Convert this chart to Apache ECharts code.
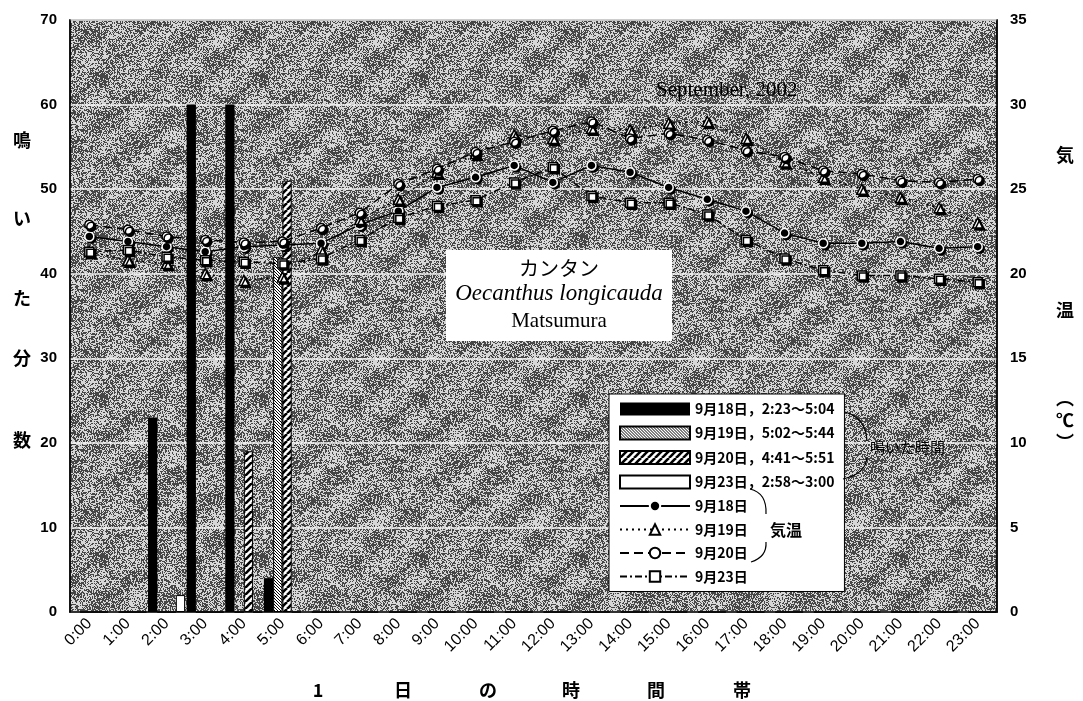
<!DOCTYPE html>
<html>
<head>
<meta charset="utf-8">
<script src="https://cdn.jsdelivr.net/npm/echarts@6/dist/echarts.min.js"></script>
<style>
  html, body { margin: 0; padding: 0; background: #fff; }
  #main { width: 1083px; height: 701px; }
</style>
</head>
<body>
<div id="main"></div>
<script>
// 時間帯
var hours = ['0:00','1:00','2:00','3:00','4:00','5:00','6:00','7:00','8:00','9:00','10:00','11:00',
  '12:00','13:00','14:00','15:00','16:00','17:00','18:00','19:00','20:00','21:00','22:00','23:00'];

// 鳴いた分数（左軸）
var sing0918 = [0,0,23,60,60,4,0,0,0,0,0,0,0,0,0,0,0,0,0,0,0,0,0,0];
var sing0919 = [0,0,0,0,0,42,0,0,0,0,0,0,0,0,0,0,0,0,0,0,0,0,0,0];
var sing0920 = [0,0,0,0,19,51,0,0,0,0,0,0,0,0,0,0,0,0,0,0,0,0,0,0];
var sing0923 = [0,0,2,0,0,0,0,0,0,0,0,0,0,0,0,0,0,0,0,0,0,0,0,0];

// 気温（右軸, ℃）
var temp0918 = [22.2,21.9,21.6,21.3,21.6,21.7,21.8,22.9,23.7,25.1,25.7,26.4,
  25.4,26.4,26.0,25.1,24.4,23.7,22.4,21.8,21.8,21.9,21.5,21.6];
var temp0919 = [21.3,20.8,20.6,20.0,19.6,19.8,21.4,23.2,24.4,26.0,27.1,28.2,
  28.0,28.6,28.5,28.9,29.0,28.0,26.6,25.7,25.0,24.5,23.9,23.0];
var temp0920 = [22.9,22.6,22.2,22.0,21.85,21.9,22.7,23.6,25.3,26.2,27.2,27.8,
  28.45,29.0,28.0,28.3,27.9,27.3,26.9,26.1,25.9,25.5,25.4,25.6];
var temp0923 = [21.3,21.4,21.0,20.8,20.7,20.6,20.9,22.0,23.3,24.0,24.35,25.4,
  26.3,24.6,24.2,24.2,23.5,22.0,20.9,20.2,19.9,19.9,19.7,19.5];

var leftTicks = { min: 0, max: 70, interval: 10 };
var rightTicks = { min: 0, max: 35, interval: 5 };

// 背景の網点テクスチャ（装飾のみ）
function noiseTile() {
  var n = 160, c = document.createElement('canvas');
  c.width = n; c.height = n;
  var ctx = c.getContext('2d'), img = ctx.createImageData(n, n);
  for (var y = 0; y < n; y++) {
    for (var x = 0; x < n; x++) {
      var s = Math.sin(x * 12.9898 + y * 78.233) * 43758.5453;
      var h = s - Math.floor(s);
      var b = 0.5 + 0.12 * Math.sin(2 * Math.PI * x / 80) * Math.cos(2 * Math.PI * y / 40)
                  + 0.1 * Math.sin(2 * Math.PI * (x + y) / 160 * 3);
      var g = h < b ? 70 : 215;
      var i = (y * n + x) * 4;
      img.data[i] = img.data[i + 1] = img.data[i + 2] = g;
      img.data[i + 3] = 255;
    }
  }
  ctx.putImageData(img, 0, 0);
  return { image: c, repeat: 'repeat' };
}

// 斜線パターン
function hatch(p, w, dir) {
  var c = document.createElement('canvas');
  c.width = p; c.height = p;
  var ctx = c.getContext('2d');
  ctx.fillStyle = '#fff';
  ctx.fillRect(0, 0, p, p);
  ctx.strokeStyle = '#000';
  ctx.lineWidth = w;
  for (var k = -1; k <= 1; k++) {
    ctx.beginPath();
    if (dir > 0) { ctx.moveTo(k * p, p); ctx.lineTo(k * p + p, 0); }
    else { ctx.moveTo(k * p, 0); ctx.lineTo(k * p + p, p); }
    ctx.stroke();
  }
  return { image: c, repeat: 'repeat' };
}

var myChart = echarts.init(document.getElementById('main'));
var fontSans = '"Liberation Sans", Arial, sans-serif';
var fontCJK = '"Noto Sans CJK JP", sans-serif';
var markShadow = { shadowColor: '#000', shadowOffsetX: 2, shadowOffsetY: 2, shadowBlur: 0 };

function barSeries(name, data, color, border) {
  return {
    name: name, type: 'bar', yAxisIndex: 0, data: data,
    barGap: '0%', barCategoryGap: '4%',
    itemStyle: { color: color, borderColor: border ? '#000' : null, borderWidth: border ? 1 : 0 },
    emphasis: { disabled: true }, z: 2
  };
}

function lineSeries(name, data, lineType, symbol, fill) {
  return {
    name: name, type: 'line', yAxisIndex: 1, data: data,
    symbol: symbol, symbolSize: symbol === 'triangle' ? 10 : 9,
    lineStyle: { color: '#000', width: 1.5, type: lineType },
    itemStyle: Object.assign({ color: fill, borderColor: fill === '#000' ? '#fff' : '#000', borderWidth: 1.5 }, markShadow),
    emphasis: { disabled: true }, z: 5
  };
}

var barNames = ['9月18日，2:23～5:04', '9月19日，5:02～5:44', '9月20日，4:41～5:51', '9月23日，2:58～3:00'];
var lineNames = ['9月18日', '9月19日', '9月20日', '9月23日'];

var option = {
  animation: false,
  grid: {
    left: 70, right: 86, top: 20, bottom: 89,
    show: true, backgroundColor: noiseTile(), borderColor: '#222', borderWidth: 1.5
  },
  legend: {
    data: barNames.map(function (n) { return { name: n, icon: 'rect' }; }).concat(lineNames),
    orient: 'vertical', left: 609, top: 394,
    itemWidth: 70, itemHeight: 13, itemGap: 9.5,
    padding: [8, 10, 8, 10],
    backgroundColor: '#fff', borderColor: '#000', borderWidth: 1,
    textStyle: { fontFamily: fontCJK, fontSize: 14, fontWeight: 'bold', color: '#000' },
    selectedMode: false, z: 20
  },
  xAxis: {
    type: 'category', data: hours, boundaryGap: true,
    axisLine: { lineStyle: { color: '#000', width: 1.5 } },
    axisTick: { show: false },
    axisLabel: { rotate: 45, interval: 0, margin: 9, fontFamily: fontSans, fontSize: 16, color: '#000' }
  },
  yAxis: [
    {
      type: 'value', min: leftTicks.min, max: leftTicks.max, interval: leftTicks.interval,
      axisLine: { show: true, lineStyle: { color: '#000', width: 1.5 } },
      axisTick: { show: false },
      axisLabel: { margin: 13, fontFamily: fontSans, fontSize: 15, fontWeight: 'bold', color: '#000' },
      splitLine: { show: true, lineStyle: { color: '#f4f4f4', width: 1.5 } }
    },
    {
      type: 'value', min: rightTicks.min, max: rightTicks.max, interval: rightTicks.interval,
      axisLine: { show: true, lineStyle: { color: '#000', width: 1.5 } },
      axisTick: { show: false },
      axisLabel: { margin: 13, fontFamily: fontSans, fontSize: 15, fontWeight: 'bold', color: '#000' },
      splitLine: { show: false }
    }
  ],
  series: [
    barSeries(barNames[0], sing0918, '#000', false),
    barSeries(barNames[1], sing0919, hatch(3, 1, -1), true),
    barSeries(barNames[2], sing0920, hatch(7, 2.6, 1), true),
    barSeries(barNames[3], sing0923, '#fff', true),
    lineSeries(lineNames[0], temp0918, 'solid', 'circle', '#000'),
    lineSeries(lineNames[1], temp0919, [2, 4], 'triangle', '#fff'),
    lineSeries(lineNames[2], temp0920, [9, 5], 'circle', '#fff'),
    lineSeries(lineNames[3], temp0923, [7, 3, 2, 3], 'rect', '#fff')
  ],
  graphic: [
    { type: 'text', x: 656, y: 90, z: 30,
      style: { text: 'September, 2002', font: '21px "Liberation Serif", serif', fill: '#000', verticalAlign: 'middle' } },
    { type: 'rect', shape: { x: 446, y: 250, width: 226, height: 91 }, style: { fill: '#fff' }, z: 30 },
    { type: 'text', x: 559, y: 268, z: 31,
      style: { text: 'カンタン', font: '20px "Noto Sans CJK JP"', fill: '#000', align: 'center', verticalAlign: 'middle' } },
    { type: 'text', x: 559, y: 294, z: 31,
      style: { text: 'Oecanthus longicauda', font: 'italic 23px "Liberation Serif", serif', fill: '#000', align: 'center', verticalAlign: 'middle' } },
    { type: 'text', x: 559, y: 321, z: 31,
      style: { text: 'Matsumura', font: '21px "Liberation Serif", serif', fill: '#000', align: 'center', verticalAlign: 'middle' } },
    // 鳴いた時間
    { type: 'bezierCurve', z: 30, shape: { x1: 845, y1: 412, cpx1: 866, cpy1: 418, x2: 867, y2: 441 },
      style: { stroke: '#000', lineWidth: 1.2, fill: null } },
    { type: 'bezierCurve', z: 30, shape: { x1: 867, y1: 457, cpx1: 866, cpy1: 474, x2: 843, y2: 479 },
      style: { stroke: '#000', lineWidth: 1.2, fill: null } },
    { type: 'text', x: 870, y: 447, z: 30,
      style: { text: '鳴いた時間', font: '15px "Noto Sans CJK JP"', fill: '#000', verticalAlign: 'middle' } },
    // 気温
    { type: 'bezierCurve', z: 30, shape: { x1: 750, y1: 489, cpx1: 767, cpy1: 493, x2: 766, y2: 514 },
      style: { stroke: '#000', lineWidth: 1.2, fill: null } },
    { type: 'bezierCurve', z: 30, shape: { x1: 766, y1: 542, cpx1: 767, cpy1: 557, x2: 751, y2: 562 },
      style: { stroke: '#000', lineWidth: 1.2, fill: null } },
    { type: 'text', x: 770, y: 530, z: 30,
      style: { text: '気温', font: 'bold 16px "Noto Sans CJK JP"', fill: '#000', verticalAlign: 'middle' } }
  ]
};

// 軸名（縦書き）
var leftName = [['鳴', 140], ['い', 218], ['た', 298], ['分', 358], ['数', 440]];
var rightName = [['気', 155], ['温', 310], ['︵', 398], ['℃', 420], ['︶', 442]];
var xName = [['1', 318], ['日', 403], ['の', 488], ['時', 571], ['間', 656], ['帯', 742]];
leftName.forEach(function (d) {
  option.graphic.push({ type: 'text', x: 22, y: d[1], z: 30,
    style: { text: d[0], font: 'bold 18px "Noto Sans CJK JP"', fill: '#000', align: 'center', verticalAlign: 'middle' } });
});
rightName.forEach(function (d) {
  option.graphic.push({ type: 'text', x: 1065, y: d[1], z: 30,
    style: { text: d[0], font: 'bold 18px "Noto Sans CJK JP"', fill: '#000', align: 'center', verticalAlign: 'middle' } });
});
xName.forEach(function (d) {
  option.graphic.push({ type: 'text', x: d[1], y: 690, z: 30,
    style: { text: d[0], font: 'bold 18px "Noto Sans CJK JP"', fill: '#000', align: 'center', verticalAlign: 'middle' } });
});

myChart.setOption(option);
</script>
</body>
</html>
